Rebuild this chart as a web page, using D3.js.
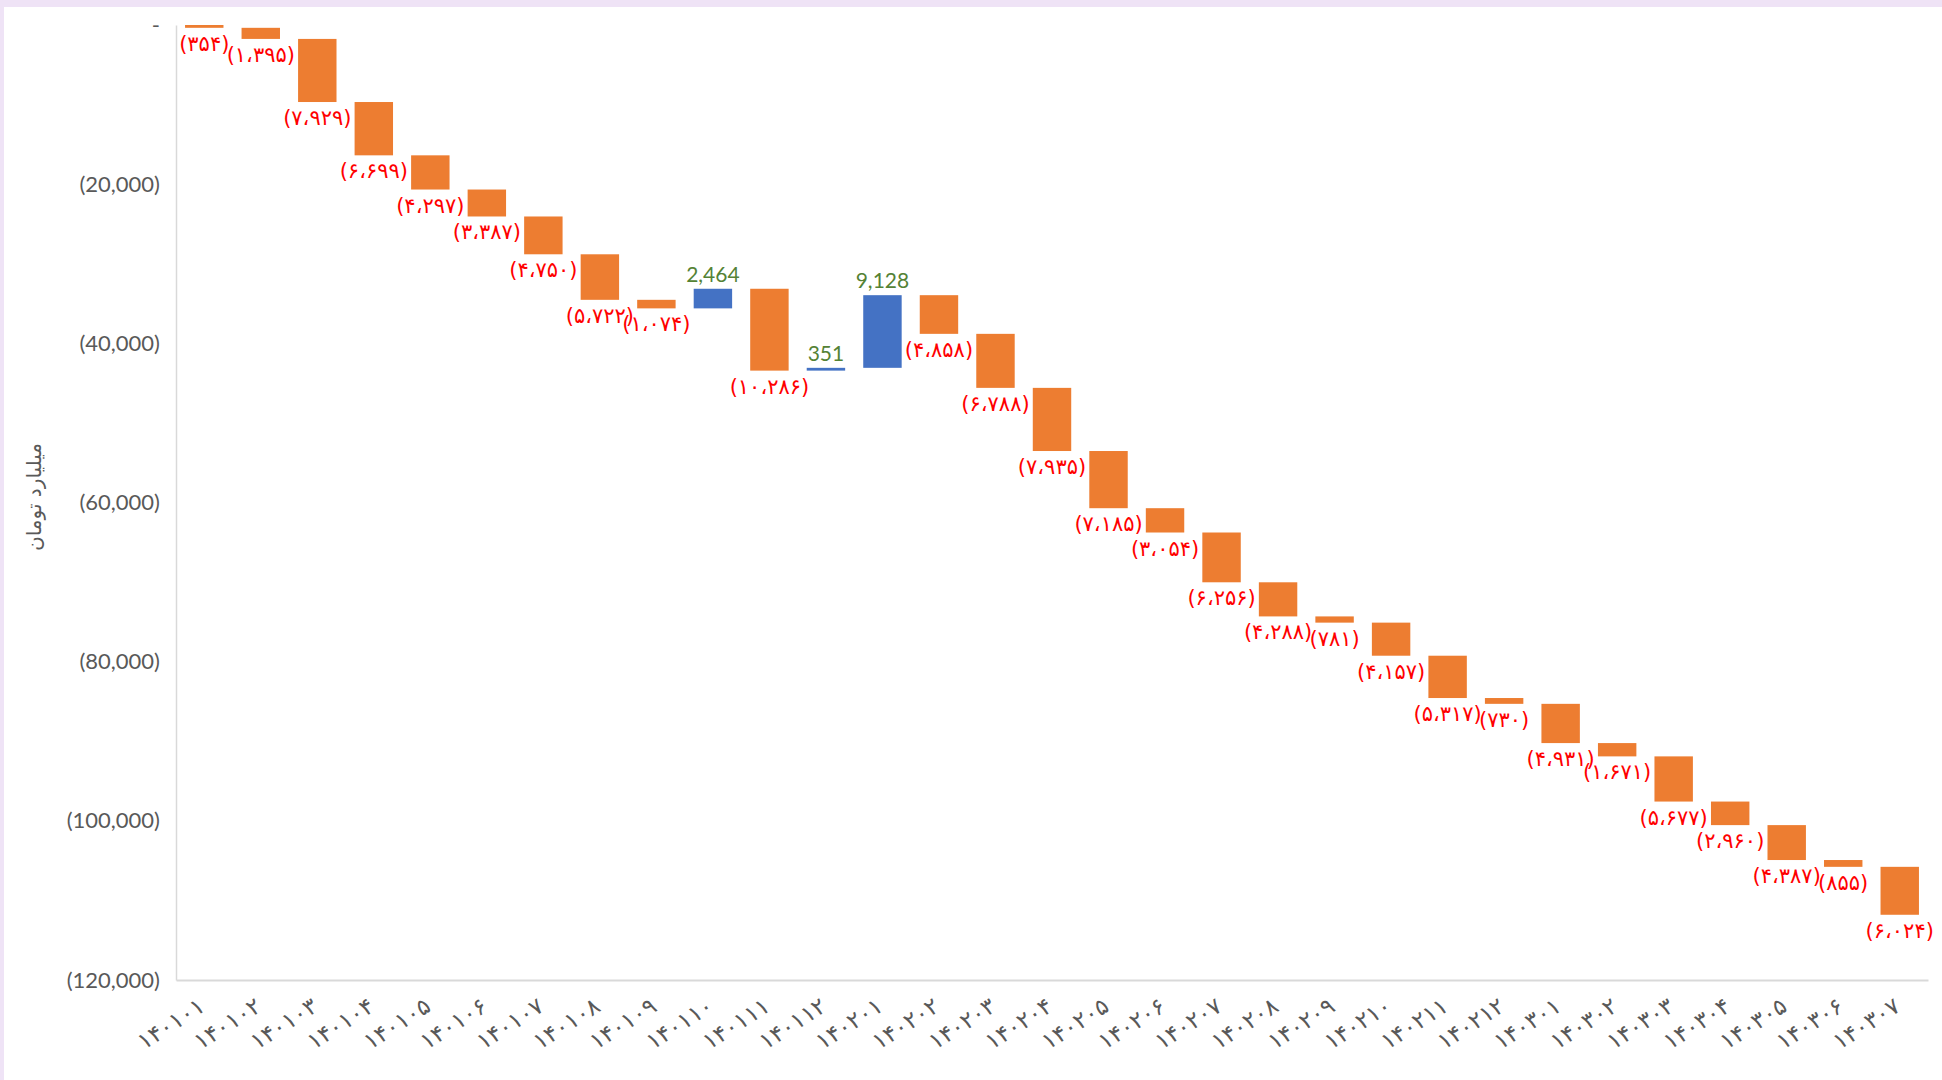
<!DOCTYPE html>
<html><head><meta charset="utf-8">
<script src="https://cdn.jsdelivr.net/npm/d3@7"></script>
<style>
body{margin:0;overflow:hidden;background:#fff}
</style>
</head><body>
<svg id="chart" width="1942" height="1080"></svg>
<script>
// ---- data ----
const categories = [
  "۱۴۰۱۰۱","۱۴۰۱۰۲","۱۴۰۱۰۳","۱۴۰۱۰۴","۱۴۰۱۰۵","۱۴۰۱۰۶","۱۴۰۱۰۷","۱۴۰۱۰۸","۱۴۰۱۰۹","۱۴۰۱۱۰","۱۴۰۱۱۱","۱۴۰۱۱۲",
  "۱۴۰۲۰۱","۱۴۰۲۰۲","۱۴۰۲۰۳","۱۴۰۲۰۴","۱۴۰۲۰۵","۱۴۰۲۰۶","۱۴۰۲۰۷","۱۴۰۲۰۸","۱۴۰۲۰۹","۱۴۰۲۱۰","۱۴۰۲۱۱","۱۴۰۲۱۲",
  "۱۴۰۳۰۱","۱۴۰۳۰۲","۱۴۰۳۰۳","۱۴۰۳۰۴","۱۴۰۳۰۵","۱۴۰۳۰۶","۱۴۰۳۰۷"
];
const changes = [
  -354, -1395, -7929, -6699, -4297, -3387, -4750, -5722, -1074, 2464, -10286, 351,
  9128, -4858, -6788, -7935, -7185, -3054, -6256, -4288, -781, -4157, -5317, -730,
  -4931, -1671, -5677, -2960, -4387, -855, -6024
];
const yTicks = [0, -20000, -40000, -60000, -80000, -100000, -120000];
const yTickLabels = ["-", "(20,000)", "(40,000)", "(60,000)", "(80,000)", "(100,000)", "(120,000)"];
const yTitle = "میلیارد تومان";

// ---- helpers ----
const faDigits = "۰۱۲۳۴۵۶۷۸۹";
const toFa = s => String(s).replace(/\d/g, d => faDigits[+d]);
const negLabel = v => "(" + toFa(d3.format(",")(Math.abs(v))).replace(/,/g, "\u060C") + ")";
const posLabel = v => d3.format(",")(v);

// waterfall steps
let run = 0;
const steps = categories.map((c, i) => {
  const start = run;
  run += changes[i];
  return {cat: c, value: changes[i], start, end: run};
});

const svg = d3.select("#chart");
const W = 1942, H = 1080;

// frame
svg.append("rect").attr("x",0).attr("y",0).attr("width",W).attr("height",H).attr("fill","#EFE3F6");
svg.append("rect").attr("x",4).attr("y",7).attr("width",W-4).attr("height",H-7).attr("fill","#ffffff");

const x = d3.scaleBand().domain(categories).range([176, 1928]).paddingInner(0.32).paddingOuter(0.16);
const y = d3.scaleLinear().domain([0, -120000]).range([25, 980]);

// y axis
const yAxis = svg.append("g").attr("transform","translate(176,0)")
  .call(d3.axisLeft(y).tickValues(yTicks).tickSize(0).tickSizeOuter(0).tickPadding(16)
        .tickFormat((d,i) => yTickLabels[i]));
yAxis.select(".domain").attr("stroke","#d9d9d9").attr("stroke-width",1.5);
yAxis.selectAll("text").attr("fill","#595959").style("font-family","Lato, 'Open Sans', sans-serif").style("font-size","22px");

// x axis
const xAxis = svg.append("g").attr("transform","translate(0,980)")
  .call(d3.axisBottom(x).tickSize(0).tickSizeOuter(0));
xAxis.select(".domain").attr("stroke","#d9d9d9").attr("stroke-width",2);
xAxis.selectAll("text")
  .attr("fill","#595959")
  .style("font-family","'DejaVu Sans', sans-serif").style("font-size","23px")
  .attr("text-anchor","end")
  .attr("dy", null).attr("y", null)
  .attr("transform","translate(2,30) rotate(-33)");

// y title
svg.append("text")
  .attr("transform","translate(41,497) rotate(-90)")
  .attr("text-anchor","middle")
  .attr("fill","#595959")
  .style("font-family","'DejaVu Sans', sans-serif").style("font-size","20px")
  .text(yTitle);

// bars
svg.append("g").selectAll("rect").data(steps).join("rect")
  .attr("x", d => x(d.cat))
  .attr("width", x.bandwidth())
  .attr("y", d => y(Math.max(d.start, d.end)))
  .attr("height", d => Math.abs(y(d.start) - y(d.end)))
  .attr("fill", d => d.value < 0 ? "#ED7D31" : "#4472C4");

// labels
svg.append("g").selectAll("text").data(steps).join("text")
  .attr("x", d => x(d.cat) + x.bandwidth()/2)
  .attr("y", d => d.value < 0 ? y(Math.min(d.start, d.end)) + 23 : y(Math.max(d.start, d.end)) - 7)
  .attr("text-anchor","middle")
  .attr("fill", d => d.value < 0 ? "#FF0000" : "#548235")
  .style("font-family", d => d.value < 0 ? "'DejaVu Sans', sans-serif" : "Lato, sans-serif")
  .style("font-size", d => d.value < 0 ? "21px" : "21px")
  .text(d => d.value < 0 ? negLabel(d.value) : posLabel(d.value));
</script>
</body></html>
